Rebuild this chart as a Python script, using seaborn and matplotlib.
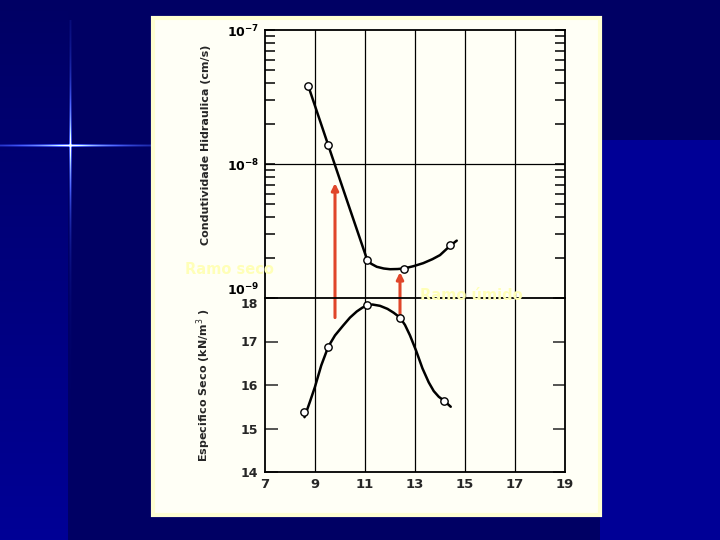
import numpy as np
import pandas as pd
import matplotlib
matplotlib.use("Agg")
import matplotlib.pyplot as plt
import seaborn as sns
from matplotlib.patches import Rectangle
from matplotlib.ticker import LogLocator, FixedLocator

# ---- data ----
moisture_k_pts = [8.73, 9.53, 11.09, 12.56, 14.40]
k_pts = [3.83e-8, 1.38e-8, 1.92e-9, 1.66e-9, 2.49e-9]
moisture_k_curve = [8.73, 9.53, 10.3, 11.09, 11.25, 11.47, 11.75, 12.0, 12.3, 12.56, 12.95, 13.33, 13.7, 14.0, 14.4, 14.67]
k_curve = [3.83e-8, 1.38e-8, 5.2e-9, 1.92e-9, 1.8e-9, 1.71e-9, 1.66e-9, 1.64e-9, 1.645e-9, 1.66e-9,
           1.73e-9, 1.82e-9, 1.95e-9, 2.09e-9, 2.45e-9, 2.68e-9]

moisture_d_pts = [8.56, 9.53, 11.09, 12.40, 14.16]
dens_pts = [15.38, 16.88, 17.83, 17.55, 15.64]
moisture_d_curve = [8.58, 8.8, 9.0, 9.25, 9.53, 9.8, 10.13, 10.4, 10.67, 10.9, 11.09, 11.3, 11.6, 11.9,
                    12.15, 12.4, 12.6, 12.8, 13.05, 13.3, 13.55, 13.75, 13.95, 14.16, 14.43]
dens_curve = [15.26, 15.62, 15.96, 16.45, 16.88, 17.14, 17.37, 17.55, 17.69, 17.78, 17.83, 17.85, 17.82,
              17.75, 17.66, 17.55, 17.38, 17.14, 16.78, 16.38, 16.06, 15.86, 15.73, 15.64, 15.5]

x_ticks = [7, 9, 11, 13, 15, 17, 19]
dens_ticks = [14, 15, 16, 17, 18]
arrow_x = [9.8, 12.4]
arrow_from_dens = [17.55, 17.58]
arrow_to_k = [7.2e-9, 1.56e-9]

sns.set_style("ticks")
plt.rcParams['font.family'] = ['DejaVu Sans']

W, H = 720, 540
fig = plt.figure(figsize=(7.2, 5.4), dpi=100)

# ---- slide background ----
bg = np.zeros((H, W, 3))
dark = np.array([0, 0, 100]) / 255
blue = np.array([0, 0, 150]) / 255
bg[:, :] = blue
bg[:, 68:600] = dark
bg[:140, 600:] = dark
t = np.linspace(0, 1, H)[:, None, None]
bg[:, :68] = dark[None, None, :] * (1 - t) + blue[None, None, :] * t
# star glow
cx, cy = 70, 145
xs = np.arange(W)
ys = np.arange(H)
glow = np.array([0.3, 0.5, 1.0])
hint = np.exp(-np.abs(xs - cx) / 55.0)
hint[xs > 153] = 0.0
for dy, f in [(0, 1.0), (-1, 0.5), (1, 0.5)]:
    row = cy + dy
    I = (f * hint)[:, None]
    bg[row, :, :] = np.clip(bg[row, :, :] + I * glow + (I ** 2) * 0.9, 0, 1)
vint = np.exp(-np.abs(ys - cy) / 50.0)
vint[ys < 20] = 0.0
for dx, f in [(0, 1.0), (-1, 0.45), (1, 0.45)]:
    col = cx + dx
    I = (f * vint)[:, None]
    bg[:, col, :] = np.clip(bg[:, col, :] + I * glow + (I ** 2) * 0.9, 0, 1)

axbg = fig.add_axes([0, 0, 1, 1])
axbg.imshow(bg, aspect='auto', extent=(0, W, H, 0), interpolation='bilinear')
axbg.set_xlim(0, W)
axbg.set_ylim(H, 0)
axbg.axis('off')
# cream panel
axbg.add_patch(Rectangle((153, 18), 447, 497, facecolor='#FFFFF6', edgecolor='#FFFFD2', lw=3))

def fx(px):
    return px / W

def fy(py):
    return 1 - py / H

x0, x1 = 265, 565
top_y0, top_y1 = 30, 298
bot_y0, bot_y1 = 298, 472

ax_top = fig.add_axes([fx(x0), fy(top_y1), fx(x1) - fx(x0), fy(top_y0) - fy(top_y1)])
ax_bot = fig.add_axes([fx(x0), fy(bot_y1), fx(x1) - fx(x0), fy(bot_y0) - fy(bot_y1)])

for ax in (ax_top, ax_bot):
    ax.set_facecolor('none')
    ax.set_xlim(7, 19)
    for s in ax.spines.values():
        s.set_color('black')
        s.set_linewidth(1.3)
    for xv in x_ticks[1:-1]:
        ax.axvline(xv, color='black', lw=0.9, zorder=1)

line_kw = dict(color='black', lw=1.8, sort=False, zorder=3)

# ---- upper: hydraulic conductivity ----
ax_top.set_yscale('log')
ax_top.set_ylim(1e-9, 1e-7)
ax_top.axhline(1e-8, color='black', lw=0.9, zorder=1)
sns.lineplot(x=moisture_k_curve, y=k_curve, ax=ax_top, **line_kw)
sns.scatterplot(x=moisture_k_pts, y=k_pts, ax=ax_top, color='white', edgecolor='black',
                s=28, linewidth=1.0, zorder=4)
ax_top.set_xticks([])
ax_top.spines['bottom'].set_visible(False)
ax_top.yaxis.set_major_locator(FixedLocator([1e-9, 1e-8, 1e-7]))
ax_top.yaxis.set_minor_locator(LogLocator(base=10, subs=np.arange(2, 10)))
ax_top.yaxis.set_minor_formatter(matplotlib.ticker.NullFormatter())
ax_top.tick_params(axis='y', which='both', direction='in', right=True, left=True,
                   length=7, width=1.1, labelsize=9, pad=4, colors='black')
ax_top.set_yticklabels([r'$\mathbf{10^{-9}}$', r'$\mathbf{10^{-8}}$', r'$\mathbf{10^{-7}}$'])
ax_top.get_yticklabels()[0].set_verticalalignment('bottom')
ax_top.set_ylabel('Condutividade Hidraulica (cm/s)', fontsize=8, fontweight='bold')

# ---- lower: dry unit weight ----
ax_bot.set_ylim(14, 18)
sns.lineplot(x=moisture_d_curve, y=dens_curve, ax=ax_bot, **line_kw)
sns.scatterplot(x=moisture_d_pts, y=dens_pts, ax=ax_bot, color='white', edgecolor='black',
                s=28, linewidth=1.0, zorder=4)
ax_bot.set_yticks(dens_ticks)
ax_bot.set_yticklabels([str(v) for v in dens_ticks])
ax_bot.get_yticklabels()[-1].set_verticalalignment('top')
ax_bot.set_xticks(x_ticks)
ax_bot.set_xticklabels([str(v) for v in x_ticks])
ax_bot.tick_params(axis='y', direction='in', right=True, left=True, length=9, width=1.1,
                   labelsize=9, pad=5)
ax_bot.tick_params(axis='x', length=0, labelsize=9.5, pad=4)
for lab in ax_bot.get_xticklabels() + ax_bot.get_yticklabels():
    lab.set_fontweight('bold')
ax_bot.set_xlabel('')
ax_bot.set_ylabel('Especifico Seco (kN/m$^3$ )', fontsize=8, fontweight='bold')
ax_bot.yaxis.set_label_coords((213 - x0) / (x1 - x0), 0.50)
ax_top.yaxis.set_label_coords((211 - x0) / (x1 - x0), 0.57)

for ax in (ax_top, ax_bot):
    for ln in ax.get_lines():
        ln.set_solid_joinstyle('round')
        ln.set_solid_capstyle('round')

# ---- red arrows from dry-density curve to conductivity curve ----
for xa, d0, k1 in zip(arrow_x, arrow_from_dens, arrow_to_k):
    ax_top.annotate('', xy=(xa, k1), xycoords=ax_top.transData,
                    xytext=(xa, d0), textcoords=ax_bot.transData,
                    arrowprops=dict(arrowstyle='-|>', color='#E0462A', lw=2.2,
                                    mutation_scale=10, shrinkA=0, shrinkB=0),
                    annotation_clip=False, zorder=6)

# ---- faint labels ----
fig.text(fx(185), fy(270), 'Ramo seco', fontsize=10.5, fontweight='bold', color='#FFFFB8',
         ha='left', va='center')
fig.text(fx(420), fy(296), 'Ramo úmido', fontsize=10.5, fontweight='bold', color='#FFFFB8',
         ha='left', va='center')

fig.savefig('out.png', dpi=100)
